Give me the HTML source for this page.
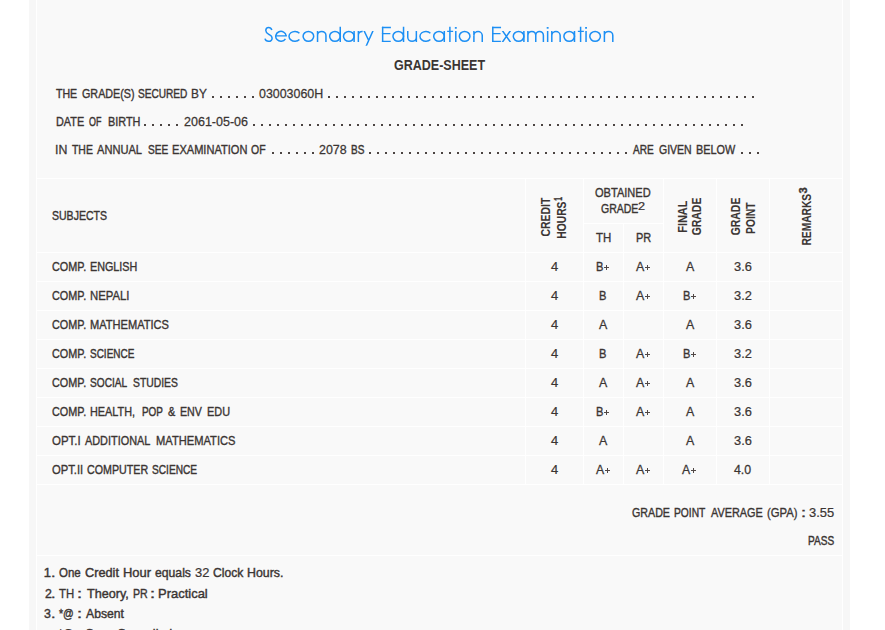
<!DOCTYPE html>
<html><head><meta charset="utf-8">
<style>
html,body{margin:0;padding:0;background:#fff;}
body{width:885px;height:630px;overflow:hidden;position:relative;font-family:"Liberation Sans",sans-serif;}
#outer{position:absolute;left:29px;top:-10px;width:821px;height:700px;background:#f7f7f7;}
#inner{position:absolute;left:7px;top:0;width:805px;height:700px;background:#f9f9f9;border-left:1px solid #fff;border-right:1px solid #fff;}
.w{position:absolute;white-space:nowrap;line-height:30px;transform-origin:0 0;}
.rt{left:0;top:0;}
.hl{position:absolute;background:#fff;height:1px;left:37px;width:805px;}
.vl{position:absolute;background:#fff;width:1px;}
.d{position:absolute;height:2px;background:repeating-linear-gradient(90deg,#4b4442 0,#4b4442 2px,transparent 2px,transparent 8px);}
.ph{position:absolute;width:5px;height:1px;background:#514846;}
.pv{position:absolute;width:1px;height:5px;background:#514846;}
.r{font-size:13.0px;font-weight:normal;color:#3b3533;-webkit-text-stroke:0.45px #3b3533;}
.b{font-size:14.5px;font-weight:bold;color:#3b3533;}
.ti{font-size:21.6px;font-weight:normal;color:#1c92f2;-webkit-text-stroke:0.4px #f9f9f9;}
.sb{font-size:10.2px;font-weight:bold;color:#3b3533;-webkit-text-stroke:0.35px #3b3533;}
.bv{font-size:13.7px;font-weight:bold;color:#3b3533;-webkit-text-stroke:0.08px #3b3533;}
.p{font-size:10.5px;font-weight:normal;color:#3b3533;-webkit-text-stroke:0.35px #3b3533;}
.sr{font-size:10.3px;font-weight:normal;color:#3b3533;-webkit-text-stroke:0.2px #3b3533;}

</style></head><body>
<div id="outer"><div id="inner"></div></div>

<!-- grid lines -->
<div class="hl" style="top:178px"></div>
<div class="hl" style="top:252px"></div>
<div class="hl" style="top:281px"></div>
<div class="hl" style="top:310px"></div>
<div class="hl" style="top:339px"></div>
<div class="hl" style="top:368px"></div>
<div class="hl" style="top:397px"></div>
<div class="hl" style="top:426px"></div>
<div class="hl" style="top:455px"></div>
<div class="hl" style="top:484px"></div>
<div class="hl" style="top:555px"></div>
<div class="hl" style="top:223px;left:584px;width:79px"></div>
<div class="vl" style="left:525px;top:179px;height:305px"></div>
<div class="vl" style="left:583px;top:179px;height:305px"></div>
<div class="vl" style="left:623px;top:224px;height:260px"></div>
<div class="vl" style="left:663px;top:179px;height:305px"></div>
<div class="vl" style="left:716px;top:179px;height:305px"></div>
<div class="vl" style="left:769px;top:179px;height:305px"></div>

<!-- dot leaders -->
<div class="d" style="left:212px;top:96px;width:42px"></div>
<div class="d" style="left:328px;top:96px;width:426px"></div>
<div class="d" style="left:144px;top:124px;width:34px"></div>
<div class="d" style="left:253px;top:124px;width:490px"></div>
<div class="d" style="left:272px;top:152px;width:42px"></div>
<div class="d" style="left:369px;top:152px;width:258px"></div>
<div class="d" style="left:741px;top:152px;width:18px"></div>

<svg id="title" width="380" height="30" viewBox="250 20 380 30" style="position:absolute;left:250px;top:20px;overflow:visible" fill="none" stroke="#1c8ff4"><path stroke-width="1.5" d="M271.85,29.95C271.35,28.4 270.2,27.5 268.6,27.5C266.9,27.5 265.8,28.9 265.8,30.6C265.8,32.5 267.2,33.5 268.8,34.4C270.6,35.4 272.1,36 272.1,37.9C272.1,39.9 270.6,41.3 268.5,41.3C266.7,41.3 265.4,40.3 265,38.6 M286.13,35.9A5.2,4.95 0 1 0 285.41,38.9 M299.42,33.17A5.9,4.95 0 1 0 299.42,39.53 M317.55,30.9V41.95 M317.55,35.4A4.2,4 0 0 1 325.95,35.4V41.95 M340.25,26.8V41.95 M354.1,30.9V41.95 M358.35,30.9V41.95 M358.35,35.3C358.35,32.6 359.95,31.35 362.65,31.5 M382.65,26.8V41.95 M403.55,26.8V41.95 M407.75,30.9V37.35A4.3,3.95 0 0 0 416.35,37.35 M416.35,30.9V41.95 M430.37,33.17A5.9,4.95 0 1 0 430.37,39.53 M444.3,30.9V41.95 M449.9,26.8V41.95 M455.8,30.9V41.95 M473.9,30.9V41.95 M473.9,35.4A4.18,4 0 0 1 482.25,35.4V41.95 M492.8,26.8V41.95 M523.9,30.9V41.95 M527.9,30.9V41.95 M527.9,35.4A3.93,4 0 0 1 535.75,35.4V41.95 M535.75,35.4A3.82,4 0 0 1 543.4,35.4V41.95 M547.65,30.9V41.95 M551.8,30.9V41.95 M551.8,35.4A4.18,4 0 0 1 560.15,35.4V41.95 M574.5,30.9V41.95 M580.6,26.8V41.95 M586.05,30.9V41.95 M604.4,30.9V41.95 M604.4,35.4A4.2,4 0 0 1 612.8,35.4V41.95"/><path stroke-width="1.3" d="M275.75,35.9H286.88 M381.9,27.48H390.9 M381.9,33.55H390.35 M381.9,41.28H390.75 M447.15,31.4H453.15 M492.05,27.48H501.05 M492.05,33.55H500.5 M492.05,41.28H500.9 M577.85,31.4H583.85"/><g stroke-width="1.5"><ellipse cx="308.4" cy="36.35" rx="5.3" ry="4.95"/><ellipse cx="334.95" cy="36.35" rx="5.3" ry="4.95"/><ellipse cx="348.8" cy="36.35" rx="5.3" ry="4.95"/><ellipse cx="398.25" cy="36.35" rx="5.3" ry="4.95"/><ellipse cx="439" cy="36.35" rx="5.3" ry="4.95"/><ellipse cx="464.65" cy="36.35" rx="5.3" ry="4.95"/><ellipse cx="518.6" cy="36.35" rx="5.3" ry="4.95"/><ellipse cx="569.2" cy="36.35" rx="5.3" ry="4.95"/><ellipse cx="595.1" cy="36.35" rx="5.3" ry="4.95"/></g><g stroke="none" fill="#1c8ff4"><rect x="454.85" y="27.05" width="1.9" height="1.65"/><rect x="546.7" y="27.05" width="1.9" height="1.65"/><rect x="585.1" y="27.05" width="1.9" height="1.65"/></g><clipPath id="cy"><rect x="362" y="30.9" width="13" height="14.85"/></clipPath><path clip-path="url(#cy)" stroke-width="1.5" d="M363.63,29.82L368.85,40.7 M373.44,29.8L365.86,46.8"/><clipPath id="cx"><rect x="500" y="30.9" width="13" height="11.05"/></clipPath><path clip-path="url(#cx)" stroke-width="1.5" d="M501.91,29.92L510.99,42.93 M510.94,29.92L501.86,42.93"/></svg>
<div class="w b" style="left:393.62px;top:50.00px;transform:scaleX(0.8630)">GRADE-SHEET</div>
<div class="w r" style="left:56.40px;top:79.22px;-webkit-text-stroke-width:0.41px;transform:scaleX(0.8147)">THE</div>
<div class="w r" style="left:82.09px;top:79.22px;-webkit-text-stroke-width:0.39px;transform:scaleX(0.8274)">GRADE(S)</div>
<div class="w r" style="left:138.08px;top:79.22px;-webkit-text-stroke-width:0.44px;transform:scaleX(0.7769)">SECURED</div>
<div class="w r" style="left:190.94px;top:79.22px;-webkit-text-stroke-width:0.31px;transform:scaleX(0.9133)">BY</div>
<div class="w r" style="left:258.88px;top:79.22px;-webkit-text-stroke-width:0.26px;transform:scaleX(0.9550)">03003060H</div>
<div class="w r" style="left:55.85px;top:107.22px;-webkit-text-stroke-width:0.39px;transform:scaleX(0.8340)">DATE</div>
<div class="w r" style="left:89.22px;top:107.22px;-webkit-text-stroke-width:0.50px;transform:scaleX(0.6858)">OF</div>
<div class="w r" style="left:107.74px;top:107.22px;-webkit-text-stroke-width:0.38px;transform:scaleX(0.8381)">BIRTH</div>
<div class="w r" style="left:183.95px;top:107.22px;-webkit-text-stroke-width:0.26px;transform:scaleX(0.9626)">2061-05-06</div>
<div class="w r" style="left:55.43px;top:135.22px;-webkit-text-stroke-width:0.27px;transform:scaleX(0.9495)">IN</div>
<div class="w r" style="left:71.51px;top:135.22px;-webkit-text-stroke-width:0.42px;transform:scaleX(0.8026)">THE</div>
<div class="w r" style="left:97.41px;top:135.22px;-webkit-text-stroke-width:0.37px;transform:scaleX(0.8540)">ANNUAL</div>
<div class="w r" style="left:147.58px;top:135.22px;-webkit-text-stroke-width:0.44px;transform:scaleX(0.7759)">SEE</div>
<div class="w r" style="left:171.92px;top:135.22px;-webkit-text-stroke-width:0.37px;transform:scaleX(0.8512)">EXAMINATION</div>
<div class="w r" style="left:251.42px;top:135.22px;-webkit-text-stroke-width:0.41px;transform:scaleX(0.8061)">OF</div>
<div class="w r" style="left:319.16px;top:135.22px;-webkit-text-stroke-width:0.26px;transform:scaleX(0.9562)">2078</div>
<div class="w r" style="left:350.63px;top:135.22px;-webkit-text-stroke-width:0.45px;transform:scaleX(0.7715)">BS</div>
<div class="w r" style="left:632.85px;top:135.22px;-webkit-text-stroke-width:0.45px;transform:scaleX(0.7737)">ARE</div>
<div class="w r" style="left:658.51px;top:135.22px;-webkit-text-stroke-width:0.41px;transform:scaleX(0.8073)">GIVEN</div>
<div class="w r" style="left:695.84px;top:135.22px;-webkit-text-stroke-width:0.38px;transform:scaleX(0.8360)">BELOW</div>
<div class="w r" style="left:51.54px;top:201.22px;-webkit-text-stroke-width:0.41px;transform:scaleX(0.8098)">SUBJECTS</div>
<div class="w r" style="left:595.47px;top:178.22px;-webkit-text-stroke-width:0.37px;transform:scaleX(0.8510)">OBTAINED</div>
<div class="w r" style="left:600.61px;top:194.22px;-webkit-text-stroke-width:0.41px;transform:scaleX(0.8081)">GRADE</div>
<div class="w r" style="left:596.16px;top:223.22px;-webkit-text-stroke-width:0.34px;transform:scaleX(0.8822)">TH</div>
<div class="w r" style="left:635.53px;top:223.22px;-webkit-text-stroke-width:0.38px;transform:scaleX(0.8425)">PR</div>
<div class="w rt bv" style="transform:translate(531.49px,236.47px) rotate(-90deg) scaleX(0.7629)">CREDIT</div>
<div class="w rt bv" style="transform:translate(547.49px,238.71px) rotate(-90deg) scaleX(0.7525)">HOURS</div>
<div class="w rt sb" style="transform:translate(544.16px,200.65px) rotate(-90deg) scaleX(0.6689)">1</div>
<div class="w rt bv" style="transform:translate(668.49px,232.75px) rotate(-90deg) scaleX(0.7957)">FINAL</div>
<div class="w rt bv" style="transform:translate(682.39px,235.37px) rotate(-90deg) scaleX(0.7636)">GRADE</div>
<div class="w rt bv" style="transform:translate(721.49px,235.37px) rotate(-90deg) scaleX(0.7636)">GRADE</div>
<div class="w rt bv" style="transform:translate(735.59px,233.90px) rotate(-90deg) scaleX(0.7486)">POINT</div>
<div class="w rt bv" style="transform:translate(792.49px,245.60px) rotate(-90deg) scaleX(0.7487)">REMARKS</div>
<div class="w rt sb" style="transform:translate(789.26px,193.60px) rotate(-90deg) scaleX(1.0775)">3</div>
<div class="w sr" style="left:638.22px;top:192.20px;transform:scaleX(1.2349)">2</div>
<div class="w r" style="left:51.98px;top:252.22px;-webkit-text-stroke-width:0.39px;transform:scaleX(0.8343)">COMP.</div>
<div class="w r" style="left:90.25px;top:252.22px;-webkit-text-stroke-width:0.39px;transform:scaleX(0.8293)">ENGLISH</div>
<div class="w r" style="left:550.89px;top:252.22px;-webkit-text-stroke-width:0.23px;transform:scaleX(0.9939)">4</div>
<div class="w r" style="left:595.82px;top:252.22px;-webkit-text-stroke-width:0.36px;transform:scaleX(0.8566)">B</div>
<div class="w r" style="left:635.85px;top:252.22px;-webkit-text-stroke-width:0.27px;transform:scaleX(0.9536)">A</div>
<div class="w r" style="left:685.85px;top:252.22px;-webkit-text-stroke-width:0.27px;transform:scaleX(0.9536)">A</div>
<div class="w r" style="left:733.86px;top:252.22px;-webkit-text-stroke-width:0.23px;transform:scaleX(0.9886)">3.6</div>
<div class="w r" style="left:51.98px;top:281.22px;-webkit-text-stroke-width:0.39px;transform:scaleX(0.8343)">COMP.</div>
<div class="w r" style="left:90.19px;top:281.22px;-webkit-text-stroke-width:0.35px;transform:scaleX(0.8718)">NEPALI</div>
<div class="w r" style="left:550.89px;top:281.22px;-webkit-text-stroke-width:0.23px;transform:scaleX(0.9939)">4</div>
<div class="w r" style="left:599.32px;top:281.22px;-webkit-text-stroke-width:0.36px;transform:scaleX(0.8566)">B</div>
<div class="w r" style="left:635.85px;top:281.22px;-webkit-text-stroke-width:0.27px;transform:scaleX(0.9536)">A</div>
<div class="w r" style="left:682.52px;top:281.22px;-webkit-text-stroke-width:0.36px;transform:scaleX(0.8566)">B</div>
<div class="w r" style="left:733.86px;top:281.22px;-webkit-text-stroke-width:0.23px;transform:scaleX(0.9886)">3.2</div>
<div class="w r" style="left:51.98px;top:310.22px;-webkit-text-stroke-width:0.39px;transform:scaleX(0.8343)">COMP.</div>
<div class="w r" style="left:90.22px;top:310.22px;-webkit-text-stroke-width:0.37px;transform:scaleX(0.8521)">MATHEMATICS</div>
<div class="w r" style="left:550.89px;top:310.22px;-webkit-text-stroke-width:0.23px;transform:scaleX(0.9939)">4</div>
<div class="w r" style="left:598.75px;top:310.22px;-webkit-text-stroke-width:0.27px;transform:scaleX(0.9536)">A</div>
<div class="w r" style="left:685.85px;top:310.22px;-webkit-text-stroke-width:0.27px;transform:scaleX(0.9536)">A</div>
<div class="w r" style="left:733.86px;top:310.22px;-webkit-text-stroke-width:0.23px;transform:scaleX(0.9886)">3.6</div>
<div class="w r" style="left:51.98px;top:339.22px;-webkit-text-stroke-width:0.39px;transform:scaleX(0.8343)">COMP.</div>
<div class="w r" style="left:90.39px;top:339.22px;-webkit-text-stroke-width:0.45px;transform:scaleX(0.7680)">SCIENCE</div>
<div class="w r" style="left:550.89px;top:339.22px;-webkit-text-stroke-width:0.23px;transform:scaleX(0.9939)">4</div>
<div class="w r" style="left:599.32px;top:339.22px;-webkit-text-stroke-width:0.36px;transform:scaleX(0.8566)">B</div>
<div class="w r" style="left:635.85px;top:339.22px;-webkit-text-stroke-width:0.27px;transform:scaleX(0.9536)">A</div>
<div class="w r" style="left:682.52px;top:339.22px;-webkit-text-stroke-width:0.36px;transform:scaleX(0.8566)">B</div>
<div class="w r" style="left:733.86px;top:339.22px;-webkit-text-stroke-width:0.23px;transform:scaleX(0.9886)">3.2</div>
<div class="w r" style="left:51.98px;top:368.22px;-webkit-text-stroke-width:0.39px;transform:scaleX(0.8343)">COMP.</div>
<div class="w r" style="left:89.88px;top:368.22px;-webkit-text-stroke-width:0.44px;transform:scaleX(0.7799)">SOCIAL</div>
<div class="w r" style="left:133.36px;top:368.22px;-webkit-text-stroke-width:0.42px;transform:scaleX(0.7963)">STUDIES</div>
<div class="w r" style="left:550.89px;top:368.22px;-webkit-text-stroke-width:0.23px;transform:scaleX(0.9939)">4</div>
<div class="w r" style="left:598.75px;top:368.22px;-webkit-text-stroke-width:0.27px;transform:scaleX(0.9536)">A</div>
<div class="w r" style="left:635.85px;top:368.22px;-webkit-text-stroke-width:0.27px;transform:scaleX(0.9536)">A</div>
<div class="w r" style="left:685.85px;top:368.22px;-webkit-text-stroke-width:0.27px;transform:scaleX(0.9536)">A</div>
<div class="w r" style="left:733.86px;top:368.22px;-webkit-text-stroke-width:0.23px;transform:scaleX(0.9886)">3.6</div>
<div class="w r" style="left:51.98px;top:397.22px;-webkit-text-stroke-width:0.39px;transform:scaleX(0.8343)">COMP.</div>
<div class="w r" style="left:90.24px;top:397.22px;-webkit-text-stroke-width:0.38px;transform:scaleX(0.8360)">HEALTH,</div>
<div class="w r" style="left:141.74px;top:397.22px;-webkit-text-stroke-width:0.46px;transform:scaleX(0.7631)">POP</div>
<div class="w r" style="left:168.23px;top:397.22px;-webkit-text-stroke-width:0.42px;transform:scaleX(0.8372)">&amp;</div>
<div class="w r" style="left:179.77px;top:397.22px;-webkit-text-stroke-width:0.40px;transform:scaleX(0.8183)">ENV</div>
<div class="w r" style="left:207.04px;top:397.22px;-webkit-text-stroke-width:0.38px;transform:scaleX(0.8383)">EDU</div>
<div class="w r" style="left:550.89px;top:397.22px;-webkit-text-stroke-width:0.23px;transform:scaleX(0.9939)">4</div>
<div class="w r" style="left:595.82px;top:397.22px;-webkit-text-stroke-width:0.36px;transform:scaleX(0.8566)">B</div>
<div class="w r" style="left:635.85px;top:397.22px;-webkit-text-stroke-width:0.27px;transform:scaleX(0.9536)">A</div>
<div class="w r" style="left:685.85px;top:397.22px;-webkit-text-stroke-width:0.27px;transform:scaleX(0.9536)">A</div>
<div class="w r" style="left:733.86px;top:397.22px;-webkit-text-stroke-width:0.23px;transform:scaleX(0.9886)">3.6</div>
<div class="w r" style="left:51.94px;top:426.22px;-webkit-text-stroke-width:0.34px;transform:scaleX(0.8799)">OPT.I</div>
<div class="w r" style="left:84.72px;top:426.22px;-webkit-text-stroke-width:0.38px;transform:scaleX(0.8375)">ADDITIONAL</div>
<div class="w r" style="left:156.11px;top:426.22px;-webkit-text-stroke-width:0.36px;transform:scaleX(0.8577)">MATHEMATICS</div>
<div class="w r" style="left:550.89px;top:426.22px;-webkit-text-stroke-width:0.23px;transform:scaleX(0.9939)">4</div>
<div class="w r" style="left:598.75px;top:426.22px;-webkit-text-stroke-width:0.27px;transform:scaleX(0.9536)">A</div>
<div class="w r" style="left:685.85px;top:426.22px;-webkit-text-stroke-width:0.27px;transform:scaleX(0.9536)">A</div>
<div class="w r" style="left:733.86px;top:426.22px;-webkit-text-stroke-width:0.23px;transform:scaleX(0.9886)">3.6</div>
<div class="w r" style="left:51.96px;top:455.22px;-webkit-text-stroke-width:0.36px;transform:scaleX(0.8637)">OPT.II</div>
<div class="w r" style="left:86.79px;top:455.22px;-webkit-text-stroke-width:0.40px;transform:scaleX(0.8213)">COMPUTER</div>
<div class="w r" style="left:151.78px;top:455.22px;-webkit-text-stroke-width:0.44px;transform:scaleX(0.7805)">SCIENCE</div>
<div class="w r" style="left:550.89px;top:455.22px;-webkit-text-stroke-width:0.23px;transform:scaleX(0.9939)">4</div>
<div class="w r" style="left:595.86px;top:455.22px;-webkit-text-stroke-width:0.28px;transform:scaleX(0.9404)">A</div>
<div class="w r" style="left:635.85px;top:455.22px;-webkit-text-stroke-width:0.27px;transform:scaleX(0.9536)">A</div>
<div class="w r" style="left:681.86px;top:455.22px;-webkit-text-stroke-width:0.28px;transform:scaleX(0.9404)">A</div>
<div class="w r" style="left:734.42px;top:455.22px;-webkit-text-stroke-width:0.27px;transform:scaleX(0.9509)">4.0</div>
<div class="w r" style="left:631.69px;top:498.22px;-webkit-text-stroke-width:0.40px;transform:scaleX(0.8216)">GRADE</div>
<div class="w r" style="left:673.90px;top:498.22px;-webkit-text-stroke-width:0.43px;transform:scaleX(0.7883)">POINT</div>
<div class="w r" style="left:710.92px;top:498.22px;-webkit-text-stroke-width:0.38px;transform:scaleX(0.8351)">AVERAGE</div>
<div class="w r" style="left:766.88px;top:498.22px;-webkit-text-stroke-width:0.35px;transform:scaleX(0.8693)">(GPA)</div>
<div class="w r" style="left:800.51px;top:498.22px;-webkit-text-stroke-width:0.40px;transform:scaleX(1.4000)">:</div>
<div class="w r" style="left:808.96px;top:498.22px;-webkit-text-stroke-width:0.23px;transform:scaleX(0.9938)">3.55</div>
<div class="w r" style="left:807.92px;top:526.22px;-webkit-text-stroke-width:0.44px;transform:scaleX(0.7752)">PASS</div>
<div class="w r" style="left:43.70px;top:558.22px;-webkit-text-stroke-width:0.40px;transform:scaleX(1.0000)">1</div>
<div class="w r" style="left:51.25px;top:558.22px;-webkit-text-stroke-width:0.40px;transform:scaleX(1.2500)">.</div>
<div class="w r" style="left:58.87px;top:558.22px;-webkit-text-stroke-width:0.42px;transform:scaleX(0.8860)">One</div>
<div class="w r" style="left:84.91px;top:558.22px;-webkit-text-stroke-width:0.42px;transform:scaleX(0.9793)">Credit</div>
<div class="w r" style="left:123.11px;top:558.22px;-webkit-text-stroke-width:0.42px;transform:scaleX(0.9985)">Hour</div>
<div class="w r" style="left:155.12px;top:558.22px;-webkit-text-stroke-width:0.42px;transform:scaleX(0.9389)">equals</div>
<div class="w r" style="left:195.06px;top:558.22px;-webkit-text-stroke-width:0.23px;transform:scaleX(0.9920)">32</div>
<div class="w r" style="left:212.73px;top:558.22px;-webkit-text-stroke-width:0.42px;transform:scaleX(0.9331)">Clock</div>
<div class="w r" style="left:247.25px;top:558.22px;-webkit-text-stroke-width:0.42px;transform:scaleX(0.9523)">Hours.</div>
<div class="w r" style="left:44.55px;top:579.22px;-webkit-text-stroke-width:0.40px;transform:scaleX(0.9500)">2</div>
<div class="w r" style="left:51.25px;top:579.22px;-webkit-text-stroke-width:0.40px;transform:scaleX(1.2500)">.</div>
<div class="w r" style="left:59.27px;top:579.22px;-webkit-text-stroke-width:0.34px;transform:scaleX(0.8758)">TH</div>
<div class="w r" style="left:77.01px;top:579.22px;-webkit-text-stroke-width:0.40px;transform:scaleX(1.4000)">:</div>
<div class="w r" style="left:86.89px;top:579.22px;-webkit-text-stroke-width:0.42px;transform:scaleX(0.9699)">Theory,</div>
<div class="w r" style="left:132.57px;top:579.22px;-webkit-text-stroke-width:0.40px;transform:scaleX(0.8170)">PR</div>
<div class="w r" style="left:150.21px;top:579.22px;-webkit-text-stroke-width:0.40px;transform:scaleX(1.4000)">:</div>
<div class="w r" style="left:158.41px;top:579.22px;-webkit-text-stroke-width:0.42px;transform:scaleX(0.9980)">Practical</div>
<div class="w r" style="left:44.31px;top:599.22px;-webkit-text-stroke-width:0.40px;transform:scaleX(0.9500)">3</div>
<div class="w r" style="left:51.25px;top:599.22px;-webkit-text-stroke-width:0.40px;transform:scaleX(1.2500)">.</div>
<div class="w r" style="left:58.76px;top:599.22px;-webkit-text-stroke-width:0.41px;transform:scaleX(0.8098)">*@</div>
<div class="w r" style="left:77.01px;top:599.22px;-webkit-text-stroke-width:0.40px;transform:scaleX(1.4000)">:</div>
<div class="w r" style="left:85.73px;top:599.22px;-webkit-text-stroke-width:0.42px;transform:scaleX(0.9388)">Absent</div>
<div class="w r" style="left:58.46px;top:619.37px;-webkit-text-stroke-width:0.18px;transform:scaleX(1.0420)">*C</div>
<div class="w r" style="left:77.01px;top:619.37px;-webkit-text-stroke-width:0.40px;transform:scaleX(1.4000)">:</div>
<div class="w r" style="left:85.23px;top:619.37px;-webkit-text-stroke-width:0.42px;transform:scaleX(0.9349)">Copy</div>
<div class="w r" style="left:116.92px;top:619.37px;-webkit-text-stroke-width:0.42px;transform:scaleX(0.9546)">Cancelled</div>
<div class="ph" style="left:604px;top:267px"></div><div class="pv" style="left:606px;top:265px"></div><div class="ph" style="left:645px;top:267px"></div><div class="pv" style="left:647px;top:265px"></div><div class="ph" style="left:645px;top:296px"></div><div class="pv" style="left:647px;top:294px"></div><div class="ph" style="left:691px;top:296px"></div><div class="pv" style="left:693px;top:294px"></div><div class="ph" style="left:645px;top:354px"></div><div class="pv" style="left:647px;top:352px"></div><div class="ph" style="left:691px;top:354px"></div><div class="pv" style="left:693px;top:352px"></div><div class="ph" style="left:645px;top:383px"></div><div class="pv" style="left:647px;top:381px"></div><div class="ph" style="left:604px;top:412px"></div><div class="pv" style="left:606px;top:410px"></div><div class="ph" style="left:645px;top:412px"></div><div class="pv" style="left:647px;top:410px"></div><div class="ph" style="left:605px;top:470px"></div><div class="pv" style="left:607px;top:468px"></div><div class="ph" style="left:645px;top:470px"></div><div class="pv" style="left:647px;top:468px"></div><div class="ph" style="left:691px;top:470px"></div><div class="pv" style="left:693px;top:468px"></div>
</body></html>
